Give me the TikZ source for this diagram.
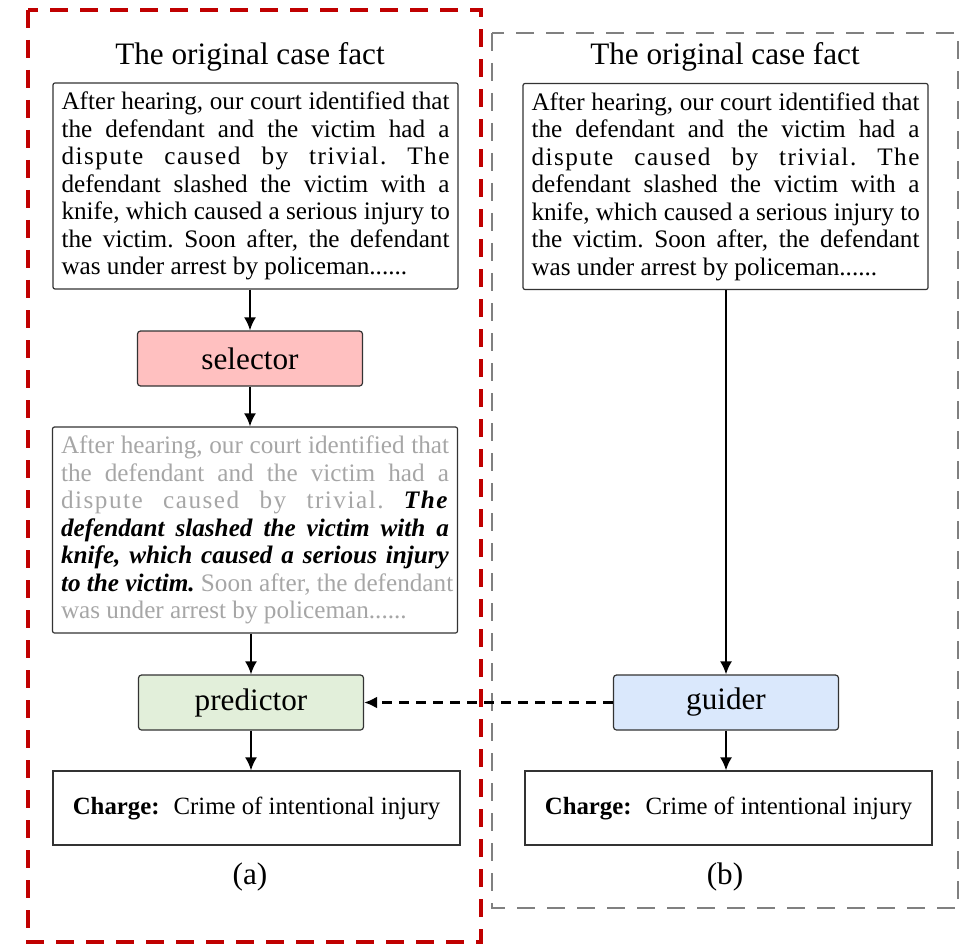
\documentclass[tikz,border=0pt]{standalone}
\usepackage{fontspec}
\setmainfont{Liberation Serif}
\usetikzlibrary{arrows.meta}
\frenchspacing
\definecolor{selred}{HTML}{FFC0C0}
\definecolor{predgreen}{HTML}{E2EFDA}
\definecolor{guideblue}{HTML}{DAE8FC}
\definecolor{fadetext}{HTML}{A6A6A6}
\definecolor{framered}{HTML}{C00000}
\newlength\factwd
\setlength\factwd{194pt}
% one justified line of a fact box, and its ragged last line
\newcommand{\fitline}[1]{\makebox[\factwd][s]{\spaceskip=.25em plus 1fil\xspaceskip=\spaceskip #1}}
\newcommand{\lastline}[1]{\makebox[\factwd][l]{\spaceskip=.25em\xspaceskip=\spaceskip #1}}
\newcommand{\spreadout}{\addfontfeature{LetterSpace=6}}
\tikzstyle{fact} = [draw=black!80, rounded corners=1pt, line width=0.6pt, text width=\factwd, inner xsep=4.25pt, minimum height=103pt, align=left, font=\fontsize{12.6}{13.75}\selectfont]
\tikzstyle{module} = [draw=black!80, rounded corners=1.5pt, line width=0.6pt, minimum width=112.5pt, minimum height=27.5pt, font=\fontsize{15.6}{18}\selectfont]
\tikzstyle{charge} = [draw=black!80, line width=0.6pt, minimum width=203.5pt, minimum height=37pt, font=\fontsize{12.4}{14}\selectfont]
\tikzstyle{caption} = [font=\fontsize{15.6}{18}\selectfont]
\tikzstyle{flow} = [-{Latex[length=6.5pt,width=6pt]}, line width=1pt]

\begin{document}
\begin{tikzpicture}[x=0.5pt,y=-0.5pt]
    \useasboundingbox (0,0) rectangle (967,946);

    % outer frames
    \draw[framered, line width=2pt, dash pattern=on 9pt off 6pt] (28,10) rectangle (481,942);
    \draw[gray, line width=1pt, dash pattern=on 9pt off 6pt] (492,33) rectangle (958,908);

    % (a)
    \node[caption] (titleA) at (250,57) {The original case fact};
    \node[fact] (factA) at (255.5,186) {%
        \fitline{After hearing, our court identified that}\\
        \fitline{the defendant and the victim had a}\\
        \fitline{\spreadout dispute caused by trivial. The}\\
        \fitline{defendant slashed the victim with a}\\
        \fitline{knife, which caused a serious injury to}\\
        \fitline{the victim. Soon after, the defendant}\\
        \lastline{was under arrest by policeman......}};
    \node[module, fill=selred] (selector) at (250,358.5) {selector};
    \node[fact] (factSel) at (255,530) {%
        \fitline{\color{fadetext}After hearing, our court identified that}\\
        \fitline{\color{fadetext}the defendant and the victim had a}\\
        \fitline{\spreadout{\color{fadetext}dispute caused by trivial.} \textbf{\textit{The}}}\\
        \fitline{\textbf{\textit{defendant slashed the victim with a}}}\\
        \fitline{\textbf{\textit{knife, which caused a serious injury}}}\\
        \fitline{\textbf{\textit{to the victim.}} {\color{fadetext}Soon after, the defendant}}\\
        \lastline{\color{fadetext}was under arrest by policeman......}};
    \node[module, fill=predgreen] (predictor) at (251,702.5) {predictor};
    \node[charge] (chargeA) at (256.5,808) {\textbf{Charge:}\hspace{7pt}Crime of intentional injury};
    \node[caption] (labelA) at (250,877) {(a)};

    % (b)
    \node[caption] (titleB) at (725,57) {The original case fact};
    \node[fact] (factB) at (725.5,186.5) {%
        \fitline{After hearing, our court identified that}\\
        \fitline{the defendant and the victim had a}\\
        \fitline{\spreadout dispute caused by trivial. The}\\
        \fitline{defendant slashed the victim with a}\\
        \fitline{knife, which caused a serious injury to}\\
        \fitline{the victim. Soon after, the defendant}\\
        \lastline{was under arrest by policeman......}};
    \node[module, fill=guideblue] (guider) at (726,702.5) {guider};
    \node[charge] (chargeB) at (728.5,808) {\textbf{Charge:}\hspace{7pt}Crime of intentional injury};
    \node[caption] (labelB) at (725,877) {(b)};

    \draw[flow] (factA.south -| selector) -- (selector);
    \draw[flow] (selector) -- (selector |- factSel.north);
    \draw[flow] (factSel.south -| predictor) -- (predictor);
    \draw[flow] (predictor) -- (predictor |- chargeA.north);
    \draw[flow] (factB.south -| guider) -- (guider);
    \draw[flow] (guider) -- (guider |- chargeB.north);
    \draw[flow, line width=1.2pt, dash pattern=on 5pt off 3.5pt] (guider) -- (predictor);

\end{tikzpicture}
\end{document}
